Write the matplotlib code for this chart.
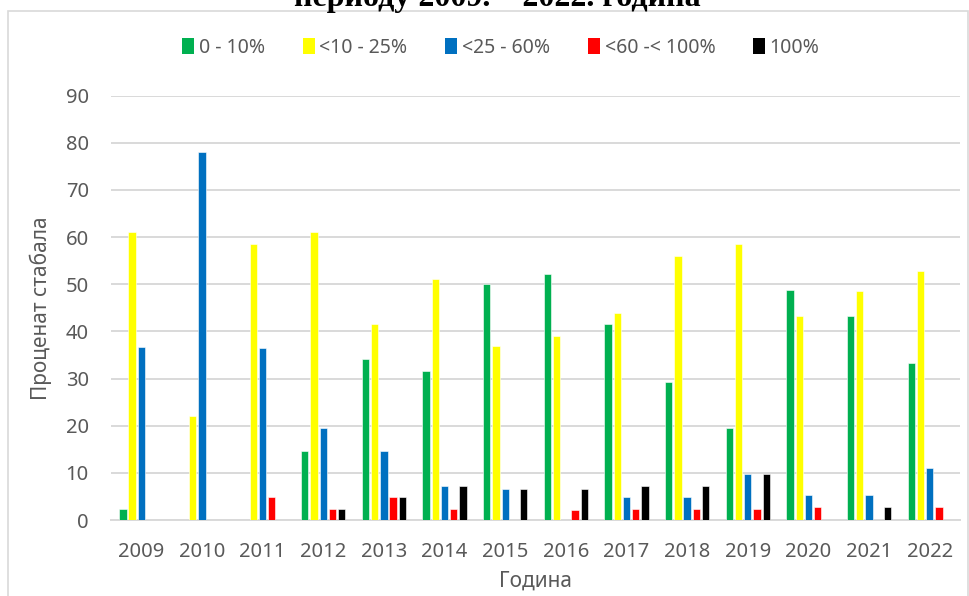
import matplotlib.pyplot as plt
from matplotlib.patches import Patch, Rectangle
import numpy as np

plt.rcParams['font.family'] = ['Noto Sans', 'DejaVu Sans']

years = ['2009', '2010', '2011', '2012', '2013', '2014', '2015',
         '2016', '2017', '2018', '2019', '2020', '2021', '2022']

share_0_10 = [2.4, 0, 0, 14.6, 34.1, 31.7, 50.0, 52.2, 41.5, 29.3, 19.5, 48.7, 43.2, 33.3]
share_10_25 = [61.0, 22.0, 58.5, 61.0, 41.5, 51.2, 37.0, 39.1, 43.9, 56.1, 58.5, 43.2, 48.6, 52.8]
share_25_60 = [36.6, 78.0, 36.5, 19.5, 14.6, 7.3, 6.5, 0, 4.9, 4.9, 9.8, 5.4, 5.4, 11.1]
share_60_100 = [0, 0, 4.9, 2.4, 4.9, 2.4, 0, 2.2, 2.4, 2.4, 2.4, 2.7, 0, 2.8]
share_100 = [0, 0, 0, 2.4, 4.9, 7.3, 6.5, 6.5, 7.3, 7.3, 9.8, 0, 2.7, 0]

series = [share_0_10, share_10_25, share_25_60, share_60_100, share_100]
labels = ['0 - 10%', '<10 - 25%', '<25 - 60%', '<60 -< 100%', '100%']
colors = ['#00B050', '#FFFF00', '#0070C0', '#FF0000', '#000000']

txt = '#595959'
grid = '#D9D9D9'

fig = plt.figure(figsize=(9.7, 5.96), dpi=100)
ax = fig.add_axes([111 / 970, 76 / 596, 849 / 970, 424.3 / 596])

x = np.arange(len(years))
pitch = 0.152
width = 0.12
for i, (vals, c) in enumerate(zip(series, colors)):
    ax.bar(x + (i - 2) * pitch, vals, width, color=c, edgecolor='white', linewidth=0.4, zorder=3)

ax.set_xlim(-0.5, len(years) - 0.5)
ax.set_ylim(0, 90)
ax.set_yticks(range(0, 91, 10))
ax.set_xticks(x)
ax.set_xticklabels(years)
ax.yaxis.grid(True, color=grid, linewidth=1.4, zorder=0)
for s in ['top', 'right', 'left']:
    ax.spines[s].set_visible(False)
ax.spines['bottom'].set_color(grid)
ax.spines['bottom'].set_linewidth(1.4)
ax.tick_params(axis='both', length=0, colors=txt, labelsize=14.5, pad=16)

ax.set_ylabel('Проценат стабала', fontsize=15, color=txt, labelpad=10)
ax.set_xlabel('Година', fontsize=15, color=txt, labelpad=6)

handles = [Patch(facecolor=c, edgecolor='none') for c in colors]
fig.legend(handles, labels, loc='center', bbox_to_anchor=(501 / 970, 1 - 48 / 596),
           ncol=5, frameon=False, fontsize=14, handlelength=0.6, handleheight=0.9,
           handletextpad=0.25, columnspacing=1.95, labelcolor=txt)

# chart border and clipped title above it
fig.patches.append(Rectangle((8 / 970, -0.05), 960 / 970, 1.05 - 11 / 596,
                             transform=fig.transFigure, fill=False,
                             edgecolor=grid, linewidth=1.2))
fig.text(497 / 970, 1 - 6 / 596, 'периоду 2009. – 2022. година', ha='center', va='baseline',
         fontsize=23, fontweight='bold', family='Liberation Serif', color='black')

fig.savefig('out.png', dpi=100)
